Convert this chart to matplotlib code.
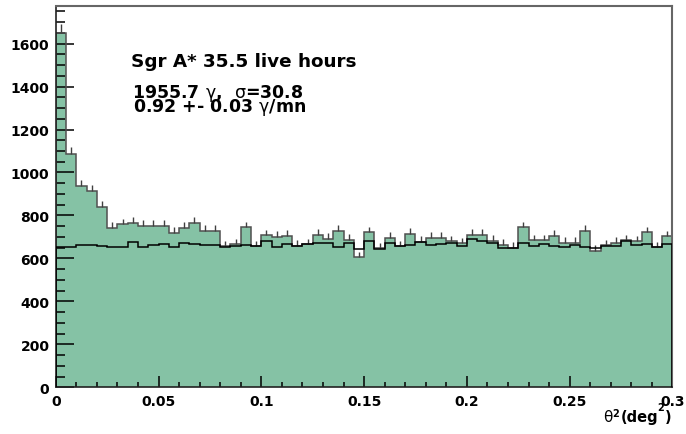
import numpy as np
import matplotlib
matplotlib.use("Agg")
import matplotlib.pyplot as plt
from matplotlib.ticker import MultipleLocator

plt.rcParams['font.family'] = ['DejaVu Sans']
plt.rcParams['mathtext.fontset'] = 'dejavusans'

# theta^2 binning: 60 bins of 0.005 deg^2
edges = np.linspace(0, 0.3, 61)

# ON counts (green filled histogram)
on_counts = [1650, 1086, 935, 912, 840, 741, 758, 767, 752, 753, 752, 718, 742, 767, 727, 727, 656, 665,
             744, 656, 707, 699, 705, 660, 666, 708, 691, 729, 687, 605, 721, 648, 696, 657, 713, 676, 696, 696, 679,
             670, 711, 708, 681, 663, 649, 744, 685, 685, 705, 674, 674, 729, 636, 662, 673, 684, 679, 721, 651, 702]

# OFF counts (black line, normalised background)
off_counts = [651, 651, 662, 662, 658, 651, 654, 677, 654, 662, 669, 651, 672, 669, 663, 663, 655, 658,
              663, 657, 679, 654, 668, 660, 666, 670, 674, 653, 674, 645, 679, 645, 670, 657, 663, 676, 663, 668, 674,
              660, 690, 682, 673, 648, 649, 670, 657, 667, 657, 653, 662, 653, 647, 657, 657, 680, 662, 667, 651, 668]

xtick_vals = [0, 0.05, 0.1, 0.15, 0.2, 0.25, 0.3]
xtick_labels = ['0', '0.05', '0.1', '0.15', '0.2', '0.25', '0.3']

on = np.array(on_counts, dtype=float)
off = np.array(off_counts, dtype=float)
centers = 0.5 * (edges[:-1] + edges[1:])

W, H = 686, 435
fig = plt.figure(figsize=(W / 100, H / 100), dpi=100)
ax = fig.add_axes([0.0812, 0.1074, 0.8991, 0.8765])

green = '#85c2a5'
ax.stairs(on, edges, fill=True, color=green, zorder=1)
ax.stairs(on, edges, color='#505050', lw=1.1, zorder=2)
# only the upper half of the error bars shows above the fill
ax.vlines(centers, on, on + np.sqrt(on), color='#404040', lw=1.0, zorder=2)
ax.stairs(off, edges, color='black', lw=1.1, zorder=3)

ax.set_xlim(0, 0.3)
ax.set_ylim(0, 1775)

ax.xaxis.set_minor_locator(MultipleLocator(0.01))
ax.yaxis.set_major_locator(MultipleLocator(200))
ax.yaxis.set_minor_locator(MultipleLocator(50))
ax.set_xticks(xtick_vals)
ax.set_xticklabels(xtick_labels)

ax.tick_params(axis='x', which='major', direction='in', length=8, width=1.1, pad=4.5)
ax.tick_params(axis='x', which='minor', direction='in', length=3.5, width=1.1)
ax.tick_params(axis='y', which='major', direction='in', length=13, width=1.1, pad=4.5)
ax.tick_params(axis='y', which='minor', direction='in', length=6.5, width=1.1)
for lab in ax.get_xticklabels() + ax.get_yticklabels():
    lab.set_fontweight('bold')
    lab.set_fontsize(10)

for s in ['left', 'bottom']:
    ax.spines[s].set_color('#222222')
    ax.spines[s].set_linewidth(1.2)
for s in ['top', 'right']:
    ax.spines[s].set_color('#666666')
    ax.spines[s].set_linewidth(1.5)

# annotations
ax.text(0.0368, 1496, 'Sgr A* 35.5 live hours', fontsize=13.2, fontweight='bold', va='baseline')
ax.text(0.0370, 1353, r'1955.7 $\mathrm{\gamma}$,  $\mathrm{\sigma}$=30.8', fontsize=12.5,
        fontweight='bold', va='baseline')
ax.text(0.0375, 1286, r'0.92 +- 0.03 $\mathrm{\gamma}$/mn', fontsize=12.5, fontweight='bold', va='baseline')

# x axis title, built from pieces like the ROOT latex output
def px(x, y):
    return x / W, 1 - y / H

fig.text(*px(603, 422), r'$\mathrm{\theta}$', fontsize=11, va='baseline')
fig.text(*px(612, 417), '2', fontsize=7, fontweight='bold', va='baseline')
fig.text(*px(621, 422), '(deg', fontsize=10.5, fontweight='bold', va='baseline')
fig.text(*px(657, 411), '2', fontsize=7, fontweight='bold', va='baseline')
fig.text(*px(665, 422), ')', fontsize=10.5, fontweight='bold', va='baseline')

fig.savefig('out.png', dpi=100)
